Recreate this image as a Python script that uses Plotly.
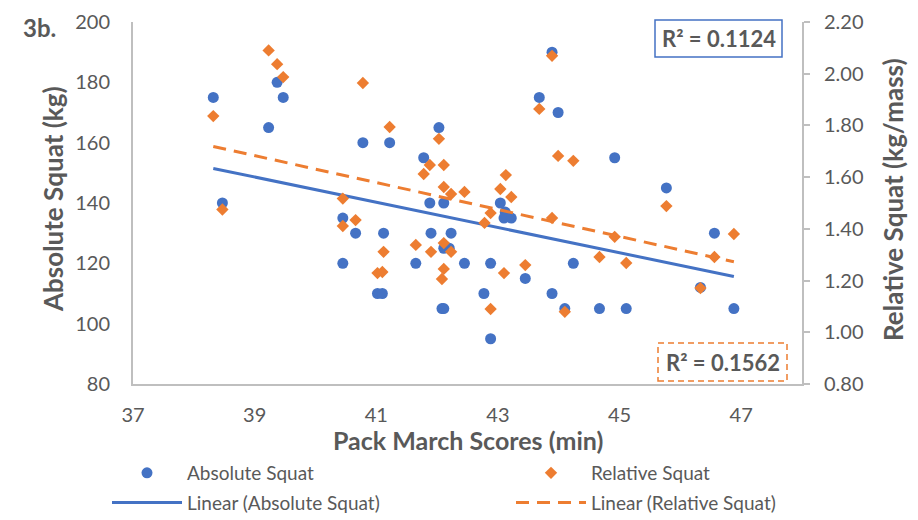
import numpy as np
import plotly.graph_objects as go

# ---- data ----
abs_x = [38.32, 38.47, 39.23, 39.37, 39.47, 40.45, 40.45, 40.66, 40.78, 41.02, 41.10, 41.12, 41.22,
         41.65, 41.78, 41.88, 41.90, 42.03, 42.08, 42.11, 42.11, 42.11, 42.20, 42.23, 42.45, 42.77,
         42.88, 42.88, 43.04, 43.12, 43.10, 43.22, 43.45, 43.68, 43.89, 43.89, 43.99, 44.10, 44.24,
         44.67, 44.92, 45.11, 45.77, 46.33, 46.56, 46.88]
abs_y = [175, 140, 165, 180, 175, 135, 120, 130, 160, 110, 110, 130, 160,
         120, 155, 140, 130, 165, 105, 105, 140, 125, 125, 130, 120, 110,
         120, 95, 140, 137, 135, 135, 115, 175, 190, 110, 170, 105, 120,
         105, 155, 105, 145, 112, 130, 105]

rel_x = [38.32, 38.47, 39.23, 39.37, 39.47, 40.45, 40.45, 40.66, 40.78, 41.02, 41.10, 41.12, 41.22,
         41.65, 41.78, 41.88, 41.90, 42.03, 42.08, 42.11, 42.11, 42.11, 42.11, 42.23, 42.23, 42.45,
         42.78, 42.88, 42.88, 43.04, 43.13, 43.10, 43.22, 43.45, 43.68, 43.89, 43.89, 43.99, 44.10,
         44.24, 44.67, 44.92, 45.11, 45.77, 46.33, 46.56, 46.88]
rel_y = [1.836, 1.475, 2.090, 2.037, 1.987, 1.517, 1.411, 1.434, 1.964, 1.229, 1.233, 1.311, 1.794,
         1.338, 1.612, 1.647, 1.311, 1.748, 1.206, 1.245, 1.647, 1.562, 1.345, 1.535, 1.311, 1.543,
         1.423, 1.461, 1.090, 1.554, 1.608, 1.229, 1.523, 1.260, 1.864, 2.069, 1.442, 1.682, 1.079,
         1.663, 1.291, 1.369, 1.268, 1.488, 1.171, 1.291, 1.380]

x_ticks = [37, 39, 41, 43, 45, 47]
r2_abs_label = "R² = 0.1124"
r2_rel_label = "R² = 0.1562"

BLUE = "#4472C4"
ORANGE = "#ED7D31"
TXT = "#595959"
AX = "#BFBFBF"
FONT = "Lato"

# linear trendlines fitted from the data
def trend(xs, ys):
    m, b = np.polyfit(xs, ys, 1)
    xx = np.array([min(xs), max(xs)])
    return xx, m * xx + b

tax, tay = trend(abs_x, abs_y)
trx, try_ = trend(rel_x, rel_y)

fig = go.Figure()
fig.add_trace(go.Scatter(x=abs_x, y=abs_y, mode="markers", name="Absolute Squat",
                         marker=dict(symbol="circle", size=11, color=BLUE),
                         legend="legend", legendgroup="a1"))
fig.add_trace(go.Scatter(x=tax, y=tay, mode="lines", name="Linear (Absolute Squat)",
                         line=dict(color=BLUE, width=3), legend="legend", legendgroup="a2"))
fig.add_trace(go.Scatter(x=rel_x, y=rel_y, mode="markers", name="Relative Squat", yaxis="y2",
                         marker=dict(symbol="diamond", size=9.5, color=ORANGE),
                         legend="legend2", legendgroup="r1"))
fig.add_trace(go.Scatter(x=trx, y=try_, mode="lines", name="Linear (Relative Squat)", yaxis="y2",
                         line=dict(color=ORANGE, width=3, dash="13px,8px"),
                         legend="legend2", legendgroup="r2"))

W, H = 918, 520
L, R, T, B = 133, 116, 22, 136
pw, ph = W - L - R, H - T - B
def px(x):
    return (x - L) / pw
def py(y):
    return (H - B - y) / ph

fig.update_layout(
    width=W, height=H,
    margin=dict(l=L, r=R, t=T, b=B, autoexpand=False),
    paper_bgcolor="white", plot_bgcolor="white",
    font=dict(family=FONT, color=TXT, size=20),
    xaxis=dict(range=[37, 48], tickvals=x_ticks, showgrid=False, zeroline=False,
               showline=True, linecolor=AX, linewidth=2, ticks="", ticklabelstandoff=12,
               tickfont=dict(size=20, color=TXT)),
    yaxis=dict(range=[80, 200], dtick=20, showgrid=False, zeroline=False,
               showline=True, linecolor=AX, linewidth=2, ticks="", ticklabelstandoff=17,
               tickfont=dict(size=20, color=TXT)),
    yaxis2=dict(range=[0.8, 2.2], dtick=0.2, tickformat=".2f", overlaying="y", side="right",
                showgrid=False, zeroline=False, showline=True, linecolor=AX, linewidth=2,
                ticks="outside", ticklen=6, tickcolor=AX, tickwidth=1.5, ticklabelstandoff=10,
                tickfont=dict(size=20, color=TXT)),
    legend=dict(x=px(107), y=py(454), xanchor="left", yanchor="top", orientation="v",
                font=dict(size=19, color=TXT), itemwidth=70, bgcolor="rgba(0,0,0,0)",
                tracegroupgap=2),
    legend2=dict(x=px(511), y=py(454), xanchor="left", yanchor="top", orientation="v",
                 font=dict(size=19, color=TXT), itemwidth=70, bgcolor="rgba(0,0,0,0)",
                 tracegroupgap=2),
    showlegend=True,
)

shapes = [
    dict(type="rect", xref="paper", yref="paper", x0=px(655), x1=px(782), y0=py(57), y1=py(20),
         line=dict(color=BLUE, width=1.5), fillcolor="white", layer="above"),
    dict(type="rect", xref="paper", yref="paper", x0=px(658), x1=px(787), y0=py(381), y1=py(343),
         line=dict(color=ORANGE, width=1.5, dash="6px,4px"), fillcolor="white", layer="above"),
]
fig.update_layout(shapes=shapes)

ann = [
    dict(text="<b>3b.</b>", x=px(21), y=py(27), xanchor="left", yanchor="middle", font=dict(size=24)),
    dict(text="<b>Pack March Scores (min)</b>", x=0.5, y=py(440), xanchor="center", yanchor="middle",
         font=dict(size=25)),
    dict(text="<b>Absolute Squat (kg)</b>", x=px(53), y=py(199), xanchor="center", yanchor="middle",
         textangle=-90, font=dict(size=26)),
    dict(text="<b>Relative Squat (kg/mass)</b>", x=px(893), y=py(200), xanchor="center", yanchor="middle",
         textangle=-90, font=dict(size=26)),
    dict(text="<b>" + r2_abs_label + "</b>", x=px(718.5), y=py(38.5), xanchor="center", yanchor="middle",
         font=dict(size=22)),
    dict(text="<b>" + r2_rel_label + "</b>", x=px(722.5), y=py(362), xanchor="center", yanchor="middle",
         font=dict(size=22)),
]
for a in ann:
    a.update(xref="paper", yref="paper", showarrow=False)
    a.setdefault("font", {})
    a["font"].setdefault("color", TXT)
    a["font"].setdefault("family", FONT)
fig.update_layout(annotations=ann)

fig.write_html("out.html", config={"displayModeBar": False},
               post_script="document.body.style.margin='0';")
